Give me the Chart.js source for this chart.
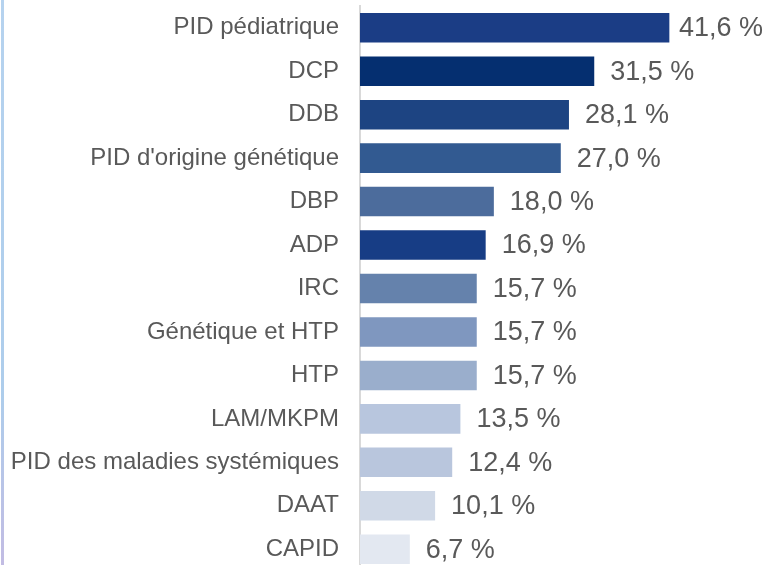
<!DOCTYPE html>
<html>
<head>
<meta charset="utf-8">
<script src="https://cdn.jsdelivr.net/npm/chart.js@4/dist/chart.umd.min.js"></script>
<style>
  html, body { margin: 0; padding: 0; background: #fff; overflow: hidden; }
  #wrap { position: relative; width: 769px; height: 565px; overflow: hidden; }
  #bord { position: absolute; left: 1px; top: 0; width: 3px; height: 565px;
          background: linear-gradient(#a9cbec, #9fc4e8 70%, #b7b0de); opacity: 0.85; }
  canvas { position: absolute; left: 0; top: 0; }
</style>
</head>
<body>
<div id="wrap">
  <div id="bord"></div>
  <canvas id="graf" width="769" height="571"></canvas>
</div>
<script>
// Catégories et valeurs (%)
const categories = ['PID pédiatrique', 'DCP', 'DDB', "PID d'origine génétique", 'DBP', 'ADP', 'IRC',
  'Génétique et HTP', 'HTP', 'LAM/MKPM', 'PID des maladies systémiques', 'DAAT', 'CAPID'];
const valeurs = [41.6, 31.5, 28.1, 27.0, 18.0, 16.9, 15.7, 15.7, 15.7, 13.5, 12.4, 10.1, 6.7];
const couleurs = ['#1b3d85', '#052f70', '#1d4482', '#325a91', '#4c6c9c', '#173d85', '#6582ac',
  '#7f97bf', '#9aaecc', '#b8c6de', '#b9c6dd', '#d0d9e7', '#e3e8f1'];

// étiquettes de valeur à droite des barres
const etiquettes = {
  id: 'etiquettes',
  afterDatasetsDraw(chart) {
    const ctx = chart.ctx;
    const meta = chart.getDatasetMeta(0);
    ctx.save();
    ctx.font = '27px "Liberation Sans", Arial, sans-serif';
    ctx.fillStyle = '#595959';
    ctx.textBaseline = 'middle';
    meta.data.forEach((bar, i) => {
      const txt = valeurs[i].toFixed(1).replace('.', ',') + ' %';
      const w = ctx.measureText(txt).width;
      let x = bar.x + 16;
      if (x + w > chart.width - 6) x = chart.width - 6 - w;
      ctx.fillText(txt, x, bar.y + 1);
    });
    ctx.restore();
  }
};

new Chart(document.getElementById('graf'), {
  type: 'bar',
  data: {
    labels: categories,
    datasets: [{
      data: valeurs,
      backgroundColor: couleurs,
      borderWidth: 0,
      categoryPercentage: 1,
      barPercentage: 0.68
    }]
  },
  options: {
    indexAxis: 'y',
    responsive: false,
    animation: false,
    layout: { padding: { top: 6, right: 0, bottom: 0, left: 0 } },
    plugins: { legend: { display: false }, tooltip: { enabled: false } },
    scales: {
      x: { display: false, min: 0, max: 55 },
      y: {
        afterFit(axis) {
          axis.width = 360;
          axis.paddingTop = 0;
          axis.paddingBottom = 0;
        },
        grid: { display: false, drawTicks: false },
        border: { display: true, color: '#d9d9d9', width: 2 },
        ticks: {
          padding: 21,
          color: '#595959',
          font: { family: '"Liberation Sans", Arial, sans-serif', size: 24 }
        }
      }
    }
  },
  plugins: [etiquettes]
});
</script>
</body>
</html>
